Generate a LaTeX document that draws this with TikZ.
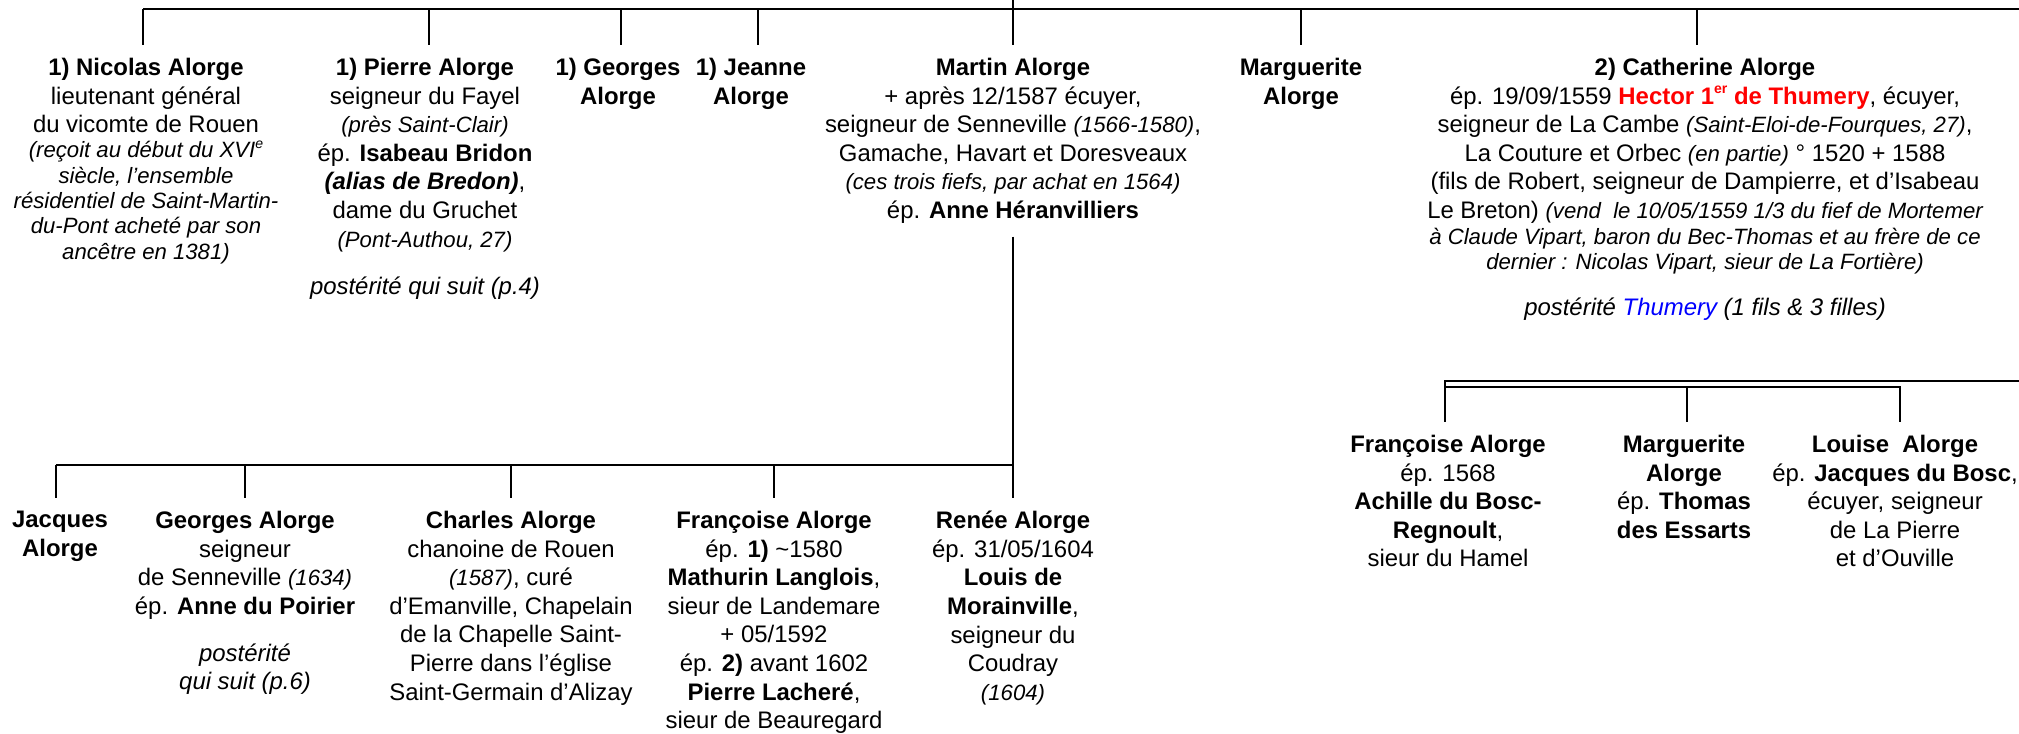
\documentclass[tikz,border=0pt]{standalone}
\usepackage{fontspec}
\setmainfont{Liberation Sans}
\usepackage{xcolor}
\definecolor{hectorred}{RGB}{255,0,0}
\definecolor{linkblue}{RGB}{0,0,255}
\newcommand{\note}[1]{{\fontsize{6.3}{7.3}\selectfont\itshape #1}}% small italic remark
\newcommand{\expo}[1]{\raisebox{0.85ex}{\fontsize{4}{4}\selectfont #1}}% small superscript

\begin{document}
\begin{tikzpicture}[x=0.01cm,y=-0.01cm,
  person/.style={anchor=north,align=center,inner xsep=0pt,inner ysep=3.5pt,
    font=\fontsize{6.8}{8.15}\selectfont},
  bus/.style={line width=0.75pt}]
\useasboundingbox (0,0) rectangle (2019,733);

% Bus lines (free ends)
\coordinate (topedge) at (0,0);
\coordinate (topbus) at (0,9);
\coordinate (topend) at (2019,9);
\coordinate (lowbus) at (0,465);
\coordinate (thumery) at (2019,381);
\coordinate (inbus) at (0,387);

% First generation
\node[person] (nicolas) at (146,45) {\textbf{1) Nicolas Alorge}\\ lieutenant général\\ du vicomte de Rouen\\[-0.95pt]
  \note{(reçoit au début du XVI\expo{e}}\\[-0.95pt] \note{siècle, l’ensemble}\\[-0.95pt]
  \note{résidentiel de Saint-Martin-}\\[-0.95pt] \note{du-Pont acheté par son}\\[-0.95pt] \note{ancêtre en 1381)}};
\node[person] (pierre) at (425,45) {\textbf{1) Pierre Alorge}\\ seigneur du Fayel\\ \note{(près Saint-Clair)}\\
  ép. \textbf{Isabeau Bridon}\\ \textbf{\textit{(alias de Bredon)}},\\ dame du Gruchet\\ \note{(Pont-Authou, 27)}\\[5.2pt]
  \textit{postérité qui suit (p.4)}};
\node[person] (georges) at (618,45) {\textbf{1) Georges}\\ \textbf{Alorge}};
\node[person] (jeanne) at (751,45) {\textbf{1) Jeanne}\\ \textbf{Alorge}};
\node[person] (martin) at (1013,45) {\textbf{Martin Alorge}\\ + après 12/1587 écuyer,\\
  seigneur de Senneville \note{(1566-1580)},\\ Gamache, Havart et Doresveaux\\
  \note{(ces trois fiefs, par achat en 1564)}\\ ép. \textbf{Anne Héranvilliers}};
\node[person] (marguerite) at (1301,45) {\textbf{Marguerite}\\ \textbf{Alorge}};
\node[person] (catherine) at (1705,45) {\textbf{2) Catherine Alorge}\\
  ép. 19/09/1559 \textcolor{hectorred}{\textbf{Hector 1\expo{er} de Thumery}}, écuyer,\\
  seigneur de La Cambe \note{(Saint-Eloi-de-Fourques, 27)},\\
  La Couture et Orbec \note{(en partie)} ° 1520 + 1588\\
  (fils de Robert, seigneur de Dampierre, et d’Isabeau\\
  Le Breton) \note{(vend\ \ le 10/05/1559 1/3 du fief de Mortemer}\\[-0.7pt]
  \note{à Claude Vipart, baron du Bec-Thomas et au frère de ce}\\[-1.1pt]
  \note{dernier : Nicolas Vipart, sieur de La Fortière)}\\[5pt]
  \textit{postérité \textcolor{linkblue}{Thumery} (1 fils \& 3 filles)}};

\draw[bus] ([xshift=-0.03cm]nicolas.north |- topbus) -- (topend);
\draw[bus] (martin.north |- topedge) -- (martin.north);
\draw[bus] ([xshift=-0.03cm]nicolas.north |- topbus) -- ([xshift=-0.03cm]nicolas.north);
\draw[bus] ([xshift=0.04cm]pierre.north |- topbus) -- ([xshift=0.04cm]pierre.north);
\draw[bus] ([xshift=0.03cm]georges.north |- topbus) -- ([xshift=0.03cm]georges.north);
\draw[bus] ([xshift=0.07cm]jeanne.north |- topbus) -- ([xshift=0.07cm]jeanne.north);
\draw[bus] (marguerite.north |- topbus) -- (marguerite.north);
\draw[bus] ([xshift=-0.08cm]catherine.north |- topbus) -- ([xshift=-0.08cm]catherine.north);

% Children of Martin
\node[person] (jacques) at (60,498) {\textbf{Jacques}\\ \textbf{Alorge}};
\node[person] (georgesb) at (245,498) {\textbf{Georges Alorge}\\ seigneur\\ de Senneville \note{(1634)}\\
  ép. \textbf{Anne du Poirier}\\[5.2pt] \textit{postérité}\\ \textit{qui suit (p.6)}};
\node[person] (charles) at (511,498) {\textbf{Charles Alorge}\\ chanoine de Rouen\\ \note{(1587)}, curé\\
  d’Emanville, Chapelain\\ de la Chapelle Saint-\\ Pierre dans l’église\\ Saint-Germain d’Alizay};
\node[person] (francoise) at (774,498) {\textbf{Françoise Alorge}\\ ép. \textbf{1)} \textasciitilde1580\\
  \textbf{Mathurin Langlois},\\ sieur de Landemare\\ + 05/1592\\ ép. \textbf{2)} avant 1602\\
  \textbf{Pierre Lacheré},\\ sieur de Beauregard};
\node[person] (renee) at (1013,498) {\textbf{Renée Alorge}\\ ép. 31/05/1604\\ \textbf{Louis de}\\
  \textbf{Morainville},\\ seigneur du\\ Coudray\\ \note{(1604)}};

\draw[bus] (martin.south) -- (renee.north);
\draw[bus] ([xshift=-0.04cm]jacques.north |- lowbus) -- (lowbus -| renee.north);
\draw[bus] ([xshift=-0.04cm]jacques.north |- lowbus) -- ([xshift=-0.04cm]jacques.north);
\draw[bus] (georgesb.north |- lowbus) -- (georgesb.north);
\draw[bus] (charles.north |- lowbus) -- (charles.north);
\draw[bus] (francoise.north |- lowbus) -- (francoise.north);

% Children of Catherine
\node[person] (francoiseb) at (1448,422) {\textbf{Françoise Alorge}\\ ép. 1568\\ \textbf{Achille du Bosc-}\\
  \textbf{Regnoult},\\ sieur du Hamel};
\node[person] (margueriteb) at (1684,422) {\textbf{Marguerite}\\ \textbf{Alorge}\\ ép. \textbf{Thomas}\\ \textbf{des Essarts}};
\node[person] (louise) at (1895,422) {\textbf{Louise\ \ Alorge}\\ ép. \textbf{Jacques du Bosc},\\
  écuyer, seigneur\\ de La Pierre\\ et d’Ouville};

\draw[bus] (thumery) -| ([xshift=-0.03cm]francoiseb.north);
\draw[bus] ([xshift=-0.03cm]francoiseb.north |- inbus) -| ([xshift=0.05cm]louise.north);
\draw[bus] ([xshift=0.03cm]margueriteb.north |- inbus) -- ([xshift=0.03cm]margueriteb.north);

\end{tikzpicture}
\end{document}
